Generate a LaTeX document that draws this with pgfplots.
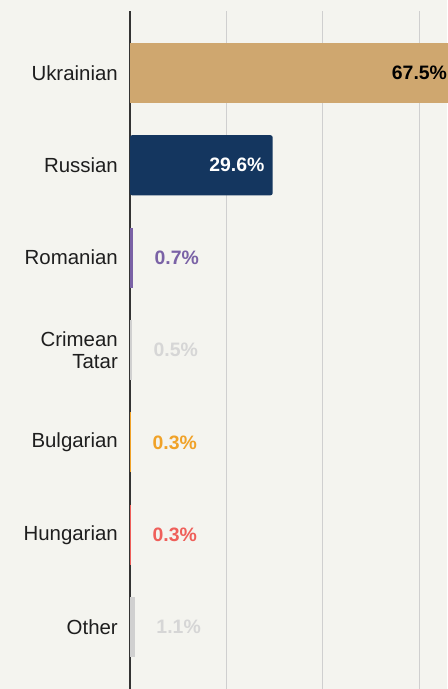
\documentclass[border=0pt]{standalone}
\usepackage{pgfplots}
\pgfplotsset{compat=1.18}
\usepackage{fontspec}
\setmainfont{Liberation Sans}
\usetikzlibrary{backgrounds}
\definecolor{bgc}{HTML}{F4F4EF}
\definecolor{ukr}{HTML}{CFA76F}
\definecolor{rus}{HTML}{14365F}
\definecolor{rom}{HTML}{7A62A6}
\definecolor{cri}{HTML}{D0D0D0}
\definecolor{crit}{HTML}{D6D6D6}
\definecolor{bul}{HTML}{F0A228}
\definecolor{hun}{HTML}{EF5F5A}
\definecolor{oth}{HTML}{D0D0D0}
\definecolor{gridc}{HTML}{CFCFCF}
\definecolor{axc}{HTML}{333333}
\definecolor{txt}{HTML}{1E1E1E}
\newcommand{\valfmt}{\pgfmathprintnumber[fixed,precision=1,fixed zerofill,assume math mode=true]{\pgfplotspointmeta}\%}
\begin{document}
\begin{tikzpicture}
\begin{axis}[
  scale only axis, width=317bp, height=678bp,
  clip=false,
  xbar, bar shift=0pt, bar width=0.65,
  xmin=0, xmax=65.8,
  ymin=-0.67, ymax=6.67, y dir=reverse,
  ytick={0,1,2,3,4,5,6},
  yticklabels={Ukrainian,Russian,Romanian,{Crimean\\Tatar},Bulgarian,Hungarian,Other},
  yticklabel style={align=right, font=\fontsize{20.5}{21.5}\selectfont, text=txt, inner sep=0pt, xshift=-12bp},
  major tick length=0pt,
  xtick={20,40,60}, xticklabels={},
  xmajorgrids, grid style={draw=gridc, line width=0.9pt},
  axis line style={draw=none},
  point meta=x,
  every node near coord/.append style={font=\fontsize{19.5}{20}\selectfont\bfseries, inner sep=0pt},
]
\draw[axc, line width=1.6pt] (rel axis cs:0,0) -- (rel axis cs:0,1);
\addplot[fill=ukr, draw=none, nodes near coords={\valfmt}, nodes near coords style={anchor=east, xshift=-8bp, text=black}] coordinates {(67.5,0)};
\addplot[fill=rus, draw=none, rounded corners=2pt, nodes near coords={\valfmt}, nodes near coords style={anchor=east, xshift=-8bp, text=white}] coordinates {(29.6,1)};
\addplot[fill=rom, draw=none, nodes near coords={\valfmt}, nodes near coords style={anchor=west, xshift=21bp, text=rom}] coordinates {(0.7,2)};
\addplot[fill=cri, draw=none, nodes near coords={\valfmt}, nodes near coords style={anchor=west, xshift=21bp, text=crit}] coordinates {(0.5,3)};
\addplot[fill=bul, draw=none, nodes near coords={\valfmt}, nodes near coords style={anchor=west, xshift=21bp, text=bul}] coordinates {(0.3,4)};
\addplot[fill=hun, draw=none, nodes near coords={\valfmt}, nodes near coords style={anchor=west, xshift=21bp, text=hun}] coordinates {(0.3,5)};
\addplot[fill=oth, draw=none, nodes near coords={\valfmt}, nodes near coords style={anchor=west, xshift=21bp, text=crit}] coordinates {(1.1,6)};
\end{axis}
\pgfresetboundingbox
\path[use as bounding box] ([xshift=-130bp]current axis.south west) rectangle ([yshift=11bp]current axis.north east);
\begin{scope}[on background layer]
\fill[bgc] ([xshift=-130bp]current axis.south west) rectangle ([yshift=11bp]current axis.north east);
\end{scope}
\end{tikzpicture}
\end{document}
